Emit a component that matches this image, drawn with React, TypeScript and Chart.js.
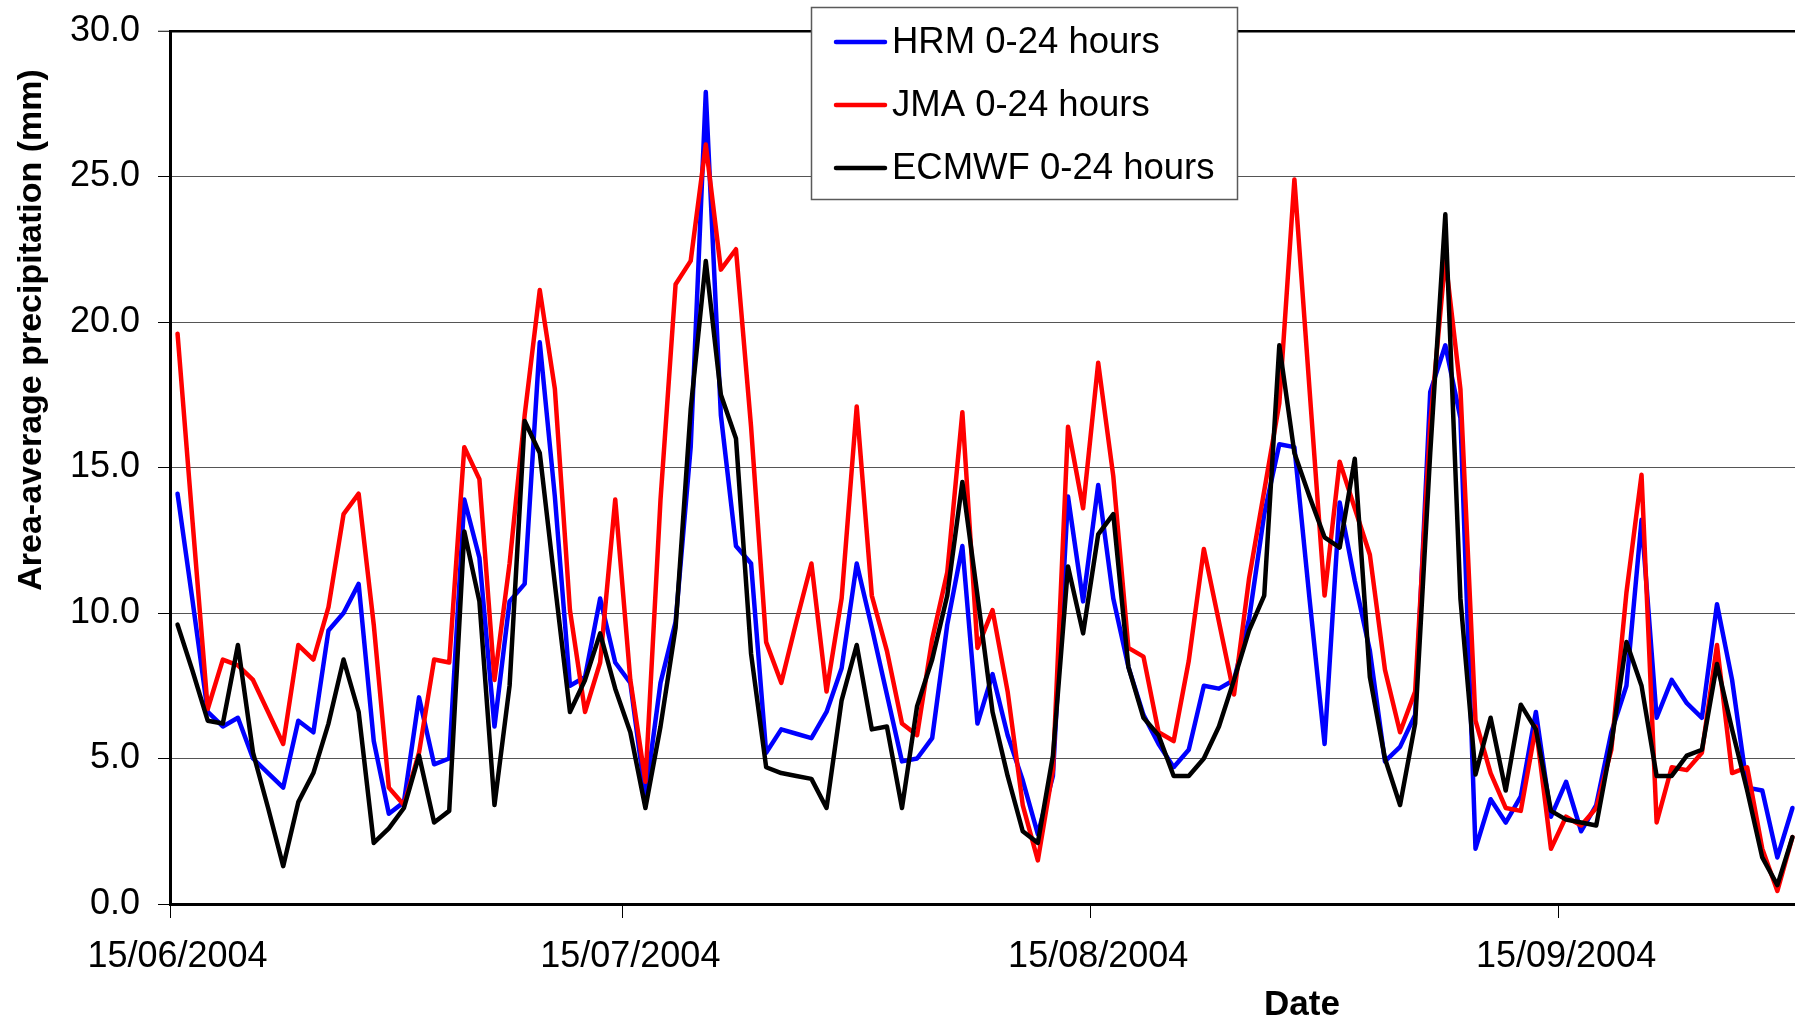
import React, { useEffect, useRef } from 'react';
import { Chart, registerables } from 'chart.js';

Chart.register(...registerables);

const FONT = '"Liberation Sans", Arial, Helvetica, sans-serif';

// Categories: one per day from 15/06/2004, 108 days (to 30/09/2004)
const START_YEAR = 2004;
const START_MONTH_INDEX = 5; // June
const START_DAY = 15;
const DAY_COUNT = 108;
const pad2 = (n: number) => (n < 10 ? '0' + n : '' + n);
const CATEGORIES: string[] = Array.from({ length: DAY_COUNT }, (_, i) => {
  const d = new Date(Date.UTC(START_YEAR, START_MONTH_INDEX, START_DAY + i));
  return `${pad2(d.getUTCDate())}/${pad2(d.getUTCMonth() + 1)}/${d.getUTCFullYear()}`;
});

const TICK_LABELS = ['15/06/2004', '15/07/2004', '15/08/2004', '15/09/2004'];

const Y_MIN = 0;
const Y_MAX = 30;
const Y_STEP = 5;

const Y_TITLE = 'Area-average precipitation (mm)';
const X_TITLE = 'Date';

const SERIES_NAMES = ['HRM 0-24 hours', 'JMA 0-24 hours', 'ECMWF 0-24 hours'];
const SERIES_COLORS = ['#0000FF', '#FF0000', '#000000'];

const HRM = [
  14.1, 10.4, 6.6, 6.1, 6.4, 5.0, 4.5, 4.0, 6.3, 5.9,
  9.4, 10.0, 11.0, 5.6, 3.1, 3.5, 7.1, 4.8, 5.0, 13.9,
  11.9, 6.1, 10.4, 11.0, 19.3, 14.0, 7.5, 7.8, 10.5, 8.3,
  7.6, 3.7, 7.6, 9.7, 15.7, 27.9, 16.8, 12.3, 11.7, 5.2,
  6.0, 5.85, 5.7, 6.6, 8.1, 11.7, 9.5, 7.2, 4.9, 5.0,
  5.7, 9.6, 12.3, 6.2, 7.9, 5.8, 4.25, 2.4, 4.4, 14.0,
  10.4, 14.4, 10.5, 8.15, 6.5, 5.5, 4.7, 5.3, 7.5, 7.4,
  7.7, 9.8, 13.4, 15.8, 15.7, 10.5, 5.5, 13.8, 11.1, 8.7,
  4.9, 5.4, 6.5, 17.6, 19.2, 16.7, 1.9, 3.6, 2.8, 3.7,
  6.6, 3.0, 4.2, 2.5, 3.4, 5.9, 7.5, 13.2, 6.4, 7.7,
  6.9, 6.4, 10.3, 7.7, 4.0, 3.9, 1.6, 3.3,
];

const JMA = [
  19.6, 13.1, 6.7, 8.4, 8.2, 7.7, 6.6, 5.5, 8.9, 8.4,
  10.2, 13.4, 14.1, 9.6, 4.0, 3.4, 5.2, 8.4, 8.3, 15.7,
  14.6, 7.7, 11.7, 16.8, 21.1, 17.7, 10.1, 6.6, 8.3, 13.9,
  7.7, 4.2, 13.9, 21.3, 22.1, 26.1, 21.8, 22.5, 16.4, 9.0,
  7.6, 9.7, 11.7, 7.3, 10.5, 17.1, 10.6, 8.7, 6.2, 5.8,
  9.1, 11.4, 16.9, 8.8, 10.1, 7.3, 3.4, 1.5, 4.6, 16.4,
  13.6, 18.6, 14.7, 8.8, 8.5, 5.9, 5.6, 8.35, 12.2, 9.7,
  7.2, 11.2, 14.2, 17.2, 24.9, 17.7, 10.6, 15.2, 13.6, 12.0,
  8.05, 5.9, 7.3, 16.5, 22.2, 17.7, 6.3, 4.5, 3.3, 3.2,
  6.1, 1.9, 3.0, 2.7, 3.3, 5.3, 10.7, 14.75, 2.8, 4.7,
  4.6, 5.2, 8.9, 4.5, 4.7, 1.9, 0.45, 2.3,
];

const ECMWF = [
  9.6, 8.0, 6.3, 6.2, 8.9, 5.2, 3.3, 1.3, 3.5, 4.5,
  6.2, 8.4, 6.6, 2.1, 2.6, 3.3, 5.1, 2.8, 3.2, 12.8,
  10.4, 3.4, 7.5, 16.6, 15.5, 11.0, 6.6, 7.7, 9.3, 7.4,
  5.9, 3.3, 6.1, 9.5, 17.0, 22.1, 17.5, 16.0, 8.6, 4.7,
  4.5, 4.4, 4.3, 3.3, 7.0, 8.9, 6.0, 6.1, 3.3, 6.8,
  8.4, 10.6, 14.5, 10.6, 6.6, 4.4, 2.5, 2.1, 5.1, 11.6,
  9.3, 12.7, 13.4, 8.15, 6.4, 5.8, 4.4, 4.4, 5.0, 6.1,
  7.7, 9.4, 10.6, 19.2, 15.5, 14.0, 12.6, 12.25, 15.3, 7.8,
  5.0, 3.4, 6.2, 15.5, 23.7, 10.5, 4.45, 6.4, 3.9, 6.85,
  6.0, 3.2, 2.9, 2.8, 2.7, 5.5, 9.0, 7.5, 4.4, 4.4,
  5.1, 5.3, 8.25, 6.0, 3.9, 1.6, 0.65, 2.3,
];

const SERIES_VALUES = [HRM, JMA, ECMWF];

const extrasPlugin = {
  id: 'extras',
  afterDraw(chart: any) {
    const ctx = chart.ctx as CanvasRenderingContext2D;
    ctx.save();
    ctx.fillStyle = '#000';
    ctx.font = `bold 34px ${FONT}`;
    ctx.textAlign = 'center';
    ctx.textBaseline = 'middle';
    // y-axis title
    ctx.save();
    ctx.translate(32, 330);
    ctx.rotate(-Math.PI / 2);
    ctx.fillText(Y_TITLE, 0, 0);
    ctx.restore();
    // x-axis title
    ctx.font = `bold 35px ${FONT}`;
    ctx.textBaseline = 'alphabetic';
    ctx.fillText(X_TITLE, 1302, 1015);

    // legend
    const bx = 811, by = 7, bw = 426, bh = 192;
    ctx.fillStyle = '#fff';
    ctx.fillRect(bx, by, bw, bh);
    ctx.strokeStyle = '#5a5a5a';
    ctx.lineWidth = 1.5;
    ctx.strokeRect(bx + 0.5, by + 0.5, bw, bh);
    ctx.font = `36.5px ${FONT}`;
    ctx.textAlign = 'left';
    ctx.textBaseline = 'middle';
    chart.data.datasets.forEach((ds: any, i: number) => {
      const y = 42 + i * 63;
      ctx.strokeStyle = ds.borderColor;
      ctx.lineWidth = 4.5;
      ctx.lineCap = 'round';
      ctx.beginPath();
      ctx.moveTo(836, y);
      ctx.lineTo(885, y);
      ctx.stroke();
      ctx.fillStyle = '#000';
      ctx.fillText(ds.label, 892, y + 1);
    });
    ctx.restore();
  },
};

export default function App() {
  const canvasRef = useRef<HTMLCanvasElement | null>(null);

  useEffect(() => {
    const canvas = canvasRef.current;
    if (!canvas) return;
    const chart = new Chart(canvas, {
      type: 'line',
      data: {
        labels: CATEGORIES,
        datasets: SERIES_NAMES.map((name, i) => ({
          label: name,
          data: SERIES_VALUES[i],
          borderColor: SERIES_COLORS[i],
          backgroundColor: SERIES_COLORS[i],
          borderWidth: 4.5,
          pointRadius: 0,
          tension: 0,
          fill: false,
          borderJoinStyle: 'round' as const,
          borderCapStyle: 'round' as const,
          order: 3 - i,
        })),
      },
      options: {
        responsive: false,
        animation: false,
        devicePixelRatio: 1,
        layout: { padding: { top: 31, left: 0, right: 0, bottom: 0 } },
        plugins: {
          legend: { display: false },
          title: { display: false },
          tooltip: { enabled: false },
        },
        scales: {
          x: {
            type: 'category',
            offset: true,
            afterFit: (scale: any) => {
              scale.height = 116;
              scale.paddingLeft = 0;
              scale.paddingRight = 0;
            },
            grid: {
              offset: true,
              drawOnChartArea: false,
              drawTicks: true,
              tickLength: 14,
              lineWidth: 1,
              color: (c: any) =>
                c.index < CATEGORIES.length && TICK_LABELS.includes(CATEGORIES[c.index])
                  ? '#000'
                  : 'rgba(0,0,0,0)',
            },
            border: { display: true, color: '#000', width: 3 },
            ticks: {
              autoSkip: false,
              maxRotation: 0,
              minRotation: 0,
              padding: 17,
              color: '#000',
              font: { family: FONT, size: 36 },
              callback: (_v: any, i: number) =>
                TICK_LABELS.includes(CATEGORIES[i]) ? CATEGORIES[i] : '',
            },
          },
          y: {
            min: Y_MIN,
            max: Y_MAX,
            afterFit: (scale: any) => {
              scale.width = 170;
              scale.paddingTop = 0;
              scale.paddingBottom = 0;
            },
            grid: {
              drawTicks: true,
              tickLength: 12,
              tickColor: '#000',
              tickWidth: 1,
              color: (c: any) =>
                c.tick && (c.tick.value === Y_MAX || c.tick.value === Y_MIN) ? '#000' : '#555',
              lineWidth: (c: any) => (c.tick && c.tick.value === Y_MAX ? 2.5 : 1),
            },
            border: { display: true, color: '#000', width: 3 },
            ticks: {
              stepSize: Y_STEP,
              padding: 18,
              color: '#000',
              font: { family: FONT, size: 36 },
              callback: (v: any) => Number(v).toFixed(1),
            },
          },
        },
      },
      plugins: [extrasPlugin],
    } as any);
    return () => chart.destroy();
  }, []);

  return (
    <div
      style={{
        position: 'fixed',
        left: 0,
        top: 0,
        width: 1795,
        height: 1020,
        overflow: 'hidden',
        background: '#fff',
      }}
    >
      <canvas
        ref={canvasRef}
        width={1800}
        height={1020}
        style={{ display: 'block', width: 1800, height: 1020 }}
      />
    </div>
  );
}
